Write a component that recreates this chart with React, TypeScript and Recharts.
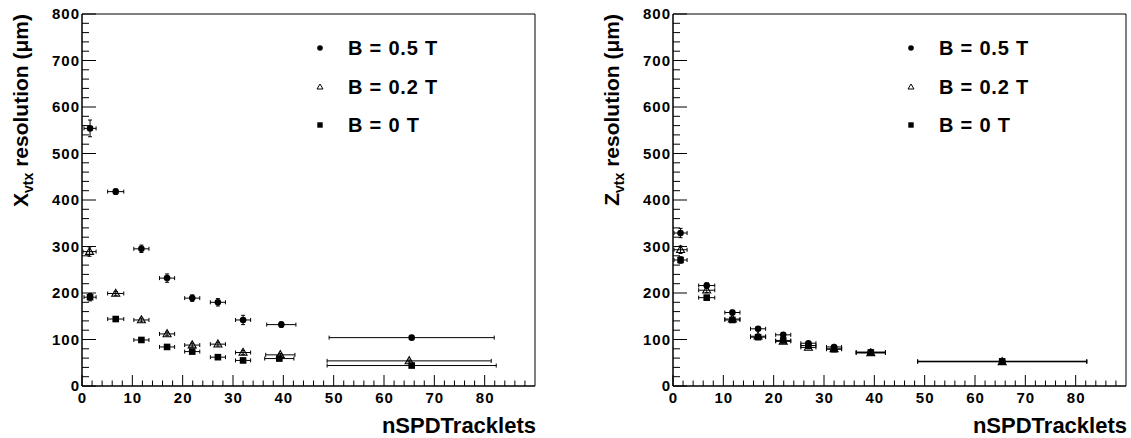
import React from 'react';
import { ScatterChart, Scatter, XAxis, YAxis, ErrorBar, ReferenceArea, Legend } from 'recharts';

const FONT = '"Liberation Sans", Arial, Helvetica, sans-serif';

// ---- series names ----
const seriesNames = ['B = 0.5 T', 'B = 0.2 T', 'B = 0 T'];

// ---- tick labels ----
const xMajorTicks = [0, 10, 20, 30, 40, 50, 60, 70, 80];
const yMajorTicks = [0, 100, 200, 300, 400, 500, 600, 700, 800];
const xAxisTitle = 'nSPDTracklets';

// ---- left panel: X_vtx resolution (um) ----
const xvtxX05 = [1.6, 6.7, 11.8, 16.9, 21.9, 27.0, 32.0, 39.6, 65.5];
const xvtxY05 = [554, 418, 295, 232, 189, 180, 142, 132, 104];
const xvtxYErr05 = [18, 6, 8, 9, 7, 8, 10, 6, 3];
const xvtxXErr05 = [1.2, 1.6, 1.5, 1.5, 1.5, 1.5, 1.5, 2.9, 16.4];

const xvtxX02 = [1.5, 6.7, 11.8, 16.9, 21.9, 27.0, 32.0, 39.4, 65.0];
const xvtxY02 = [289, 199, 142, 112, 88, 90, 72, 67, 54];
const xvtxYErr02 = [10, 4, 4, 4, 4, 4, 4, 3, 2];
const xvtxXErr02 = [1.3, 1.6, 1.5, 1.5, 1.5, 1.5, 1.5, 2.9, 16.3];

const xvtxX00 = [1.6, 6.7, 11.8, 16.9, 21.9, 27.0, 32.0, 39.2, 65.5];
const xvtxY00 = [191, 144, 99, 84, 74, 62, 55, 59, 44];
const xvtxYErr00 = [8, 3, 3, 3, 3, 3, 3, 2, 2];
const xvtxXErr00 = [1.2, 1.6, 1.5, 1.5, 1.5, 1.5, 1.5, 2.9, 16.8];

// ---- right panel: Z_vtx resolution (um) ----
const zvtxX = [1.5, 6.7, 11.8, 16.9, 21.9, 26.9, 32.0, 39.3, 65.4];
const zvtxXErr = [1.3, 1.6, 1.5, 1.5, 1.5, 1.5, 1.5, 2.9, 16.8];
const zvtxY05 = [329, 216, 158, 123, 110, 92, 84, 73, 53];
const zvtxY02 = [293, 206, 144, 107, 96, 83, 80, 71, 52];
const zvtxY00 = [271, 190, 142, 105, 98, 87, 79, 72, 53];
const zvtxYErr05 = [10, 6, 5, 4, 4, 3, 3, 2, 1];
const zvtxYErr02 = [8, 5, 4, 3, 3, 3, 3, 2, 1];
const zvtxYErr00 = [7, 5, 4, 3, 3, 3, 3, 2, 1];

// minor tick positions (axis decoration)
const xTickValues = Array.from({ length: 45 }, (_, i) => i * 2);
const yTickValues = Array.from({ length: 41 }, (_, i) => i * 20);

const build = (xs: number[], ys: number[], xe: number[], ye: number[]) =>
  xs.map((x, i) => ({ x, y: ys[i], xerr: xe[i], yerr: ye[i] }));

const leftSeries = [
  build(xvtxX05, xvtxY05, xvtxXErr05, xvtxYErr05),
  build(xvtxX02, xvtxY02, xvtxXErr02, xvtxYErr02),
  build(xvtxX00, xvtxY00, xvtxXErr00, xvtxYErr00),
];
const rightSeries = [
  build(zvtxX, zvtxY05, zvtxXErr, zvtxYErr05),
  build(zvtxX, zvtxY02, zvtxXErr, zvtxYErr02),
  build(zvtxX, zvtxY00, zvtxXErr, zvtxYErr00),
];

const legendTypes: any[] = ['circle', 'triangle', 'square'];

const CircleShape = (p: any) => <circle cx={p.cx} cy={p.cy} r={3.3} fill="#000" />;
const TriShape = (p: any) => (
  <polygon
    points={`${p.cx},${p.cy - 4.2} ${p.cx - 4},${p.cy + 2.8} ${p.cx + 4},${p.cy + 2.8}`}
    fill="none"
    stroke="#000"
    strokeWidth={1.1}
  />
);
const SquareShape = (p: any) => <rect x={p.cx - 3.3} y={p.cy - 3.3} width={6.6} height={6.6} fill="#000" />;
const shapes = [CircleShape, TriShape, SquareShape];

const XTick = (props: any) => {
  const { x, y, payload } = props;
  const v = payload.value;
  const major = xMajorTicks.includes(v);
  return (
    <g>
      <line x1={x} x2={x} y1={y} y2={y - (major ? 11 : 5.5)} stroke="#000" strokeWidth={1} />
      {major && (
        <text x={x + 0.5} y={y + 17.3} textAnchor="middle" fontFamily={FONT} fontWeight="bold" fontSize={15} letterSpacing={1} fill="#000">
          {v}
        </text>
      )}
    </g>
  );
};

const YTick = (props: any) => {
  const { x, y, payload } = props;
  const v = payload.value;
  const major = yMajorTicks.includes(v);
  return (
    <g>
      <line x1={x} x2={x + (major ? 14 : 7)} y1={y} y2={y} stroke="#000" strokeWidth={1} />
      {major && (
        <text x={x - 2} y={y + 5} textAnchor="end" fontFamily={FONT} fontWeight="bold" fontSize={15} letterSpacing={1} fill="#000">
          {v}
        </text>
      )}
    </g>
  );
};

const LegendMarker = ({ type }: { type: string }) => {
  if (type === 'circle') return <circle cx={12} cy={10} r={2.8} fill="#000" />;
  if (type === 'triangle')
    return <polygon points="12,7 9,12 15,12" fill="none" stroke="#000" strokeWidth={1} />;
  return <rect x={9.3} y={7.3} width={5.4} height={5.4} fill="#000" />;
};

const LegendContent = (props: any) => {
  const payload = [...(props.payload || [])].sort(
    (a: any, b: any) => seriesNames.indexOf(a.value) - seriesNames.indexOf(b.value)
  );
  return (
    <div style={{ fontFamily: FONT, fontWeight: 'bold', fontSize: 20, letterSpacing: 0.8, color: '#000' }}>
      {payload.map((e: any, i: number) => (
        <div key={i} style={{ display: 'flex', alignItems: 'center', height: 38.5, lineHeight: '38.5px' }}>
          <svg width={40} height={20} style={{ flex: 'none' }}>
            <LegendMarker type={e.type} />
          </svg>
          <span style={{ whiteSpace: 'nowrap' }}>{e.value}</span>
        </div>
      ))}
    </div>
  );
};

const YTitle = (letter: string) => (props: any) => {
  const vb = props.viewBox || { x: 0, y: 14, width: 82, height: 372 };
  const bx = vb.x + vb.width - 54;
  const top = vb.y;
  return (
    <text
      transform={`translate(${bx},${top}) rotate(-90)`}
      x={0}
      y={0}
      textAnchor="end"
      fontFamily={FONT}
      fontWeight="bold"
      fontSize={21}
      fill="#000"
    >
      <tspan>{letter}</tspan>
      <tspan fontSize={14} dy={5}>vtx</tspan>
      <tspan dy={-5}> resolution (μm)</tspan>
    </text>
  );
};

const XTitle = (props: any) => {
  const vb = props.viewBox || { x: 82, y: 386, width: 453, height: 52 };
  return (
    <text x={vb.x + vb.width + 1} y={vb.y + 47} textAnchor="end" fontFamily={FONT} fontWeight="bold" fontSize={22} fill="#000">
      {xAxisTitle}
    </text>
  );
};

type PanelProps = {
  width: number;
  yAxisWidth: number;
  marginRight: number;
  series: any[][];
  letter: string;
  legendLeft: number;
};

const Panel = ({ width, yAxisWidth, marginRight, series, letter, legendLeft }: PanelProps) => (
  <ScatterChart width={width} height={438} margin={{ top: 14, right: marginRight, bottom: 0, left: 0 }}>
    <XAxis
      type="number"
      dataKey="x"
      domain={[0, 90]}
      ticks={xTickValues}
      interval={0}
      allowDataOverflow
      tick={<XTick />}
      tickLine={false}
      tickSize={0}
      tickMargin={0}
      height={52}
      axisLine={{ stroke: '#000', strokeWidth: 1 }}
      label={{ content: XTitle }}
    />
    <YAxis
      type="number"
      dataKey="y"
      domain={[0, 800]}
      ticks={yTickValues}
      interval={0}
      allowDataOverflow
      tick={<YTick />}
      tickLine={false}
      tickSize={0}
      tickMargin={0}
      width={yAxisWidth}
      axisLine={{ stroke: '#000', strokeWidth: 1 }}
      label={{ content: YTitle(letter) }}
    />
    <ReferenceArea x1={0} x2={90} y1={0} y2={800} fill="none" stroke="#000" strokeWidth={1} />
    {series.map((data, i) => (
      <Scatter
        key={i}
        name={seriesNames[i]}
        data={data}
        legendType={legendTypes[i]}
        shape={shapes[i]}
        fill="#000"
        isAnimationActive={false}
      >
        <ErrorBar dataKey="xerr" direction="x" width={2} stroke="#000" strokeWidth={1} isAnimationActive={false} />
        <ErrorBar dataKey="yerr" direction="y" width={2} stroke="#000" strokeWidth={1} isAnimationActive={false} />
      </Scatter>
    ))}
    <Legend
      layout="vertical"
      align="center"
      verticalAlign="middle"
      content={<LegendContent />}
      wrapperStyle={{ left: legendLeft, top: 29, width: 220, height: 120 }}
    />
  </ScatterChart>
);

export default function App() {
  return (
    <div style={{ position: 'absolute', left: 0, top: 0, width: 1131, height: 438, background: '#fff', display: 'flex' }}>
      <Panel width={560} yAxisWidth={82} marginRight={25} series={leftSeries} letter="X" legendLeft={308} />
      <Panel width={571} yAxisWidth={113} marginRight={5} series={rightSeries} letter="Z" legendLeft={339} />
    </div>
  );
}
